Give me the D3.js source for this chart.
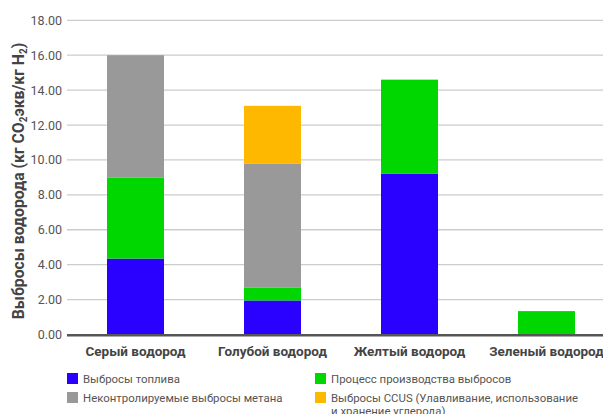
<!DOCTYPE html>
<html><head><meta charset="utf-8">
<script src="https://cdn.jsdelivr.net/npm/d3@7"></script>
<style>
html,body{margin:0;padding:0;background:#fff;overflow:hidden}
svg{display:block;font-family:Roboto,"Noto Sans",sans-serif}
</style></head>
<body><svg id="c" width="603" height="414"></svg>
<script>
const categories = ["Серый водород","Голубой водород","Желтый водород","Зеленый водород"];
const fuel    = [4.35, 1.95, 9.22, 0];
const process = [4.65, 0.75, 5.38, 1.34];
const methane = [7.0, 7.1, 0, 0];
const ccus    = [0, 3.3, 0, 0];
const seriesKeys = ["fuel","process","methane","ccus"];
const seriesNames = ["Выбросы топлива","Процесс производства выбросов","Неконтролируемые выбросы метана","Выбросы CCUS (Улавливание, использование и хранение углерода)"];
const seriesColors = ["#2a00ff","#00d600","#999999","#ffb800"];
const yTicks = [0,2,4,6,8,10,12,14,16,18];

(function(){
const rows = categories.map((c,i)=>({cat:c, fuel:fuel[i], process:process[i], methane:methane[i], ccus:ccus[i]}));
const svg = d3.select("#c");
const mLeft = 67, mRight = 615, mTop = 20.3, mBottom = 334.5;

const x = d3.scaleBand().domain(categories).range([mLeft,mRight]).paddingInner(0.584).paddingOuter(0.292);
const y = d3.scaleLinear().domain([0,18]).range([mBottom, mTop]);

// gridlines
svg.append("g").selectAll("line").data(yTicks.filter(d=>d>0)).join("line")
  .attr("x1", mLeft).attr("x2", 603)
  .attr("y1", d=>y(d)).attr("y2", d=>y(d))
  .attr("stroke","#cccccc").attr("stroke-width",1.3);

// y tick labels
const yAxis = d3.axisLeft(y).tickValues(yTicks).tickFormat(d3.format(".2f")).tickSize(0).tickPadding(5);
const ya = svg.append("g").attr("transform",`translate(${mLeft},0)`).call(yAxis);
ya.select(".domain").remove();
ya.selectAll("text").attr("font-size",12.5).attr("fill","#555").attr("font-family","Roboto");

// bars
const stack = d3.stack().keys(seriesKeys)(rows);
svg.append("g").selectAll("g").data(stack).join("g")
  .attr("fill",(d,i)=>seriesColors[i])
  .selectAll("rect").data(d=>d).join("rect")
  .attr("x", d=>x(d.data.cat)).attr("width", x.bandwidth())
  .attr("y", d=>y(d[1])).attr("height", d=>Math.max(0, y(d[0])-y(d[1])));

// baseline
svg.append("line").attr("x1",mLeft).attr("x2",603).attr("y1",y(0)+0.8).attr("y2",y(0)+0.8)
  .attr("stroke","#555").attr("stroke-width",2.5);

// x labels
const xAxis = d3.axisBottom(x).tickSize(0).tickPadding(12);
const xa = svg.append("g").attr("transform",`translate(0,${mBottom})`).call(xAxis);
xa.select(".domain").remove();
xa.selectAll("text").attr("font-size",13.5).attr("font-weight","bold").attr("fill","#444").attr("font-family","Roboto");

// y title
const t = svg.append("text").attr("transform","translate(24,181) rotate(-90)")
  .attr("text-anchor","middle").attr("font-size",15.8).attr("font-weight","bold").attr("fill","#444");
t.append("tspan").text("Выбросы водорода (кг CO");
t.append("tspan").text("2").attr("font-size",10).attr("dy",3);
t.append("tspan").text("экв/кг H").attr("dy",-3);
t.append("tspan").text("2").attr("font-size",10).attr("dy",3);
t.append("tspan").text(")").attr("dy",-3);

// legend
const legPos = [[67,373],[315,373],[67,392],[315,392]];
const leg = svg.append("g");
seriesNames.forEach((n,i)=>{
  const [lx,ly] = legPos[i];
  leg.append("rect").attr("x",lx).attr("y",ly).attr("width",11).attr("height",11).attr("fill",seriesColors[i]);
  const tx = leg.append("text").attr("x",lx+16).attr("y",ly+10).attr("font-size",11.4).attr("fill","#555");
  if (i===3) {
    tx.append("tspan").attr("x",lx+16).text("Выбросы CCUS (Улавливание, использование");
    tx.append("tspan").attr("x",lx+16).attr("dy",13).text("и хранение углерода)");
  } else tx.text(n);
});
})();
</script></body></html>
